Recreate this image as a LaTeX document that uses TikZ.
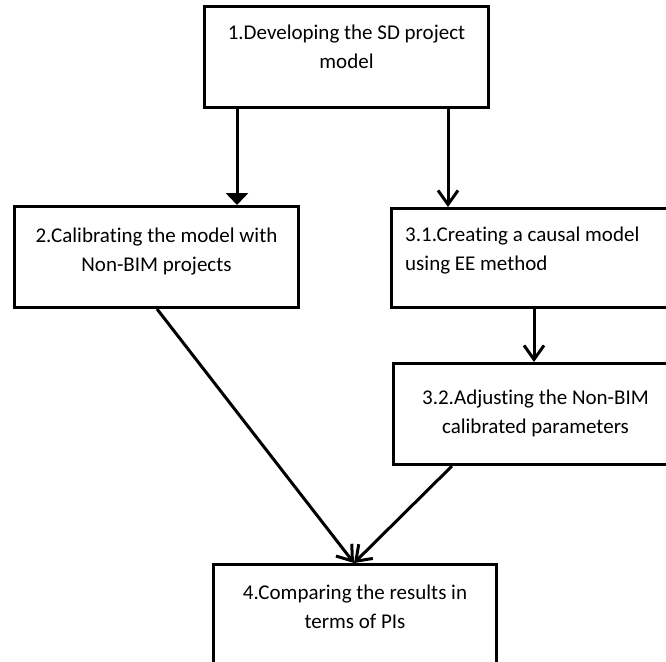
\documentclass[tikz,border=0pt]{standalone}
\usepackage{fontspec}
\setmainfont{Carlito}[Ligatures=NoCommon]
\usetikzlibrary{arrows.meta}
\begin{document}
\begin{tikzpicture}[x=1pt,y=-1pt,
  box/.style={draw=black, line width=3pt, fill=white, rectangle, anchor=north west, inner sep=0pt},
  txt/.style={font=\fontsize{21}{29}\selectfont, inner sep=0pt, anchor=north},
  conn/.style={line width=3pt},
  tri/.style={conn, -{Triangle[length=12pt,width=22pt]}},
  vee/.style={conn, -{Straight Barb[length=14pt,width=20pt]}}]
\clip (0,0) rectangle (666,661);
\fill[white] (0,0) rectangle (666,661);
% boxes
\node[box, minimum width=284pt, minimum height=101pt] (b1) at (203,5) {};
\node[box, minimum width=284pt, minimum height=101pt] (b2) at (13,205) {};
\node[box, minimum width=284pt, minimum height=99pt] (b31) at (390,207) {};
\node[box, minimum width=284pt, minimum height=101pt] (b32) at (392,362) {};
\node[box, minimum width=283pt, minimum height=101pt] (b4) at (212,563) {};
% texts
\node[txt, align=center] (t1) at ([yshift=-20pt]b1.north) {1.Developing the SD project\\model};
\node[txt, align=center] (t2) at ([yshift=-23pt]b2.north) {2.Calibrating the model with\\Non-BIM projects};
\node[txt, align=left, anchor=north west] (t31) at ([xshift=15pt,yshift=-20pt]b31.north west) {3.1.Creating a causal model\\using EE method};
\node[txt, align=center] (t32) at ([yshift=-28pt]b32.north) {3.2.Adjusting the Non-BIM\\calibrated parameters};
\node[txt, align=center] (t4) at ([yshift=-22pt]b4.north) {4.Comparing the results in\\terms of PIs};
% connectors
\coordinate (m4) at ([xshift=142pt]b4.north west);
\draw[tri] ([xshift=34pt]b1.south west) -- ([xshift=34pt]b1.south west |- b2.north);
\draw[vee] ([xshift=-42pt]b1.south east) -- ([xshift=-42pt]b1.south east |- b31.north);
\draw[vee] ([xshift=144pt]b31.south west) -- ([xshift=144pt]b31.south west |- b32.north);
\draw[vee] ([xshift=144pt]b2.south west) -- (m4);
\draw[vee] ([xshift=60pt]b32.south west) -- (m4);
\end{tikzpicture}
\end{document}
